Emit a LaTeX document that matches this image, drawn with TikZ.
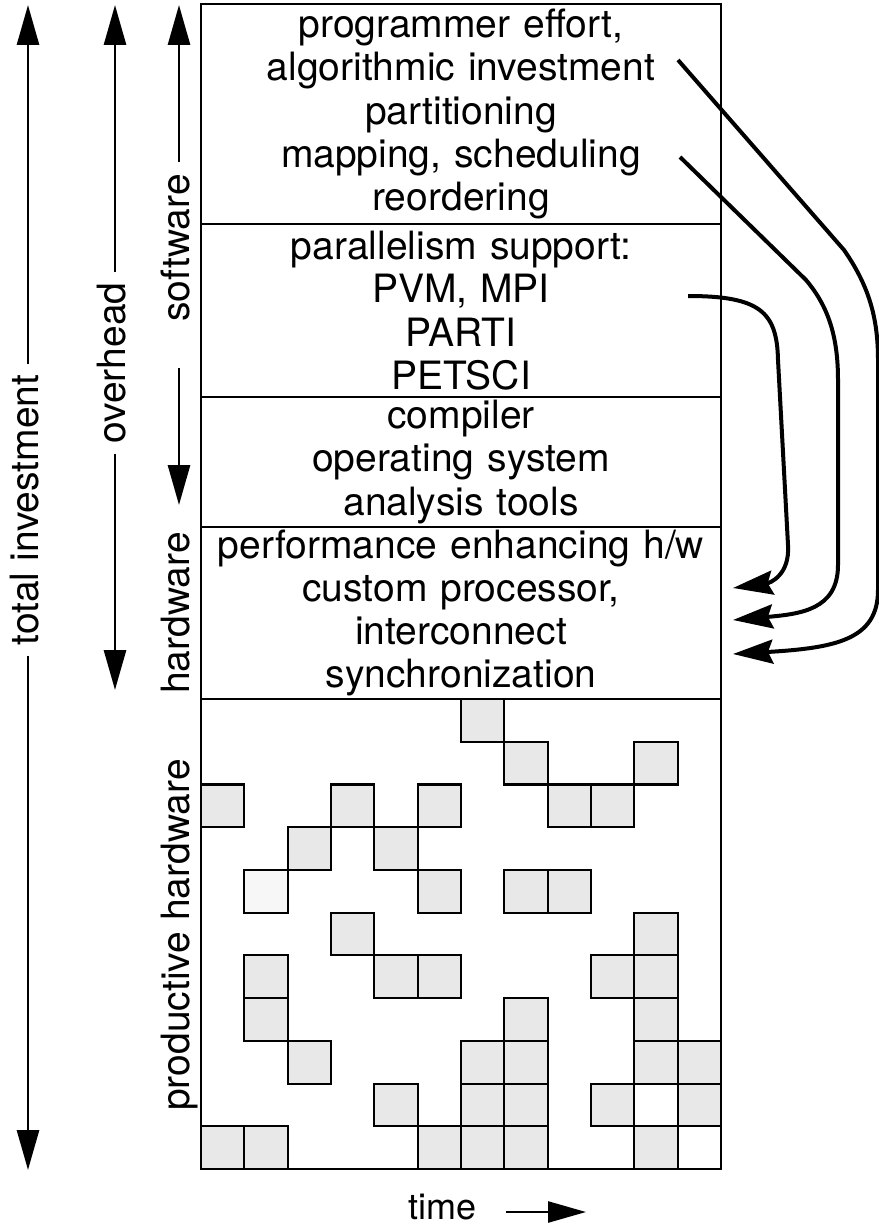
\documentclass[tikz,border=0pt]{standalone}
\usepackage{fontspec}
\setmainfont{TeX Gyre Heros}
\usetikzlibrary{arrows.meta}
\begin{document}
\begin{tikzpicture}[x=1pt,y=-1pt,
  txt/.style={font=\fontsize{39}{43.3}\selectfont},
  sect/.style={txt, draw, line width=1.4pt, minimum width=520pt, text width=510pt,
    align=center, inner sep=0pt, outer sep=0pt},
  cell/.style={draw, line width=2.1pt, fill=black!9, minimum width=43.33pt,
    minimum height=42.73pt, inner sep=0pt, outer sep=0pt},
  lightcell/.style={cell, fill=black!3},
  emptycell/.style={cell, fill=white},
  sidelab/.style={txt, rotate=90, anchor=base, inner sep=0pt},
  varrow/.style={line width=2.8pt, -{Triangle[length=40pt,width=22pt]}},
  flow/.style={line width=4pt, -{Stealth[length=40pt,width=24pt,inset=5pt]}},
]
\useasboundingbox (0,0) rectangle (878,1228);

% stacked layers of the investment column
\node[sect, minimum height=220pt] (s1) at (461,114)
  {programmer effort,\\algorithmic investment\\partitioning\\mapping, scheduling\\reordering};
\node[sect, minimum height=173pt] (s2) at (461,310.5)
  {parallelism support:\\PVM, MPI\\PARTI\\PETSCI};
\node[sect, minimum height=130pt] (s3) at (461,462)
  {compiler\\operating system\\analysis tools};
\node[sect, minimum height=172pt] (s4) at (461,613)
  {performance enhancing h/w\\custom processor,\\interconnect\\synchronization};
\node[sect, minimum height=470pt] (prod) at (461,934) {};

% busy hardware slots over time
\foreach \c/\r in {6/0, 7/1, 10/1, 0/2, 3/2, 5/2, 8/2, 9/2, 2/3, 4/3,
                   5/4, 7/4, 8/4, 3/5, 10/5, 1/6, 4/6, 5/6, 9/6, 10/6,
                   1/7, 7/7, 10/7, 2/8, 6/8, 7/8, 10/8, 11/8,
                   4/9, 6/9, 7/9, 9/9, 11/9,
                   0/10, 1/10, 5/10, 6/10, 7/10, 10/10}
  \node[cell] (g\c-\r) at ({201+(\c+0.5)*43.333},{699+(\r+0.5)*42.727}) {};
\node[lightcell] (g1-4) at ({201+1.5*43.333},{699+4.5*42.727}) {};
\node[emptycell] (g10-9) at ({201+10.5*43.333},{699+9.5*42.727}) {};
\node[emptycell] (g11-10) at ({201+11.5*43.333},{699+10.5*42.727}) {};

% side labels
\node[sidelab] (ti) at (38,510) {total investment};
\node[sidelab] (ov) at (125,363) {overhead};
\node[sidelab] (sw) at (189,248) {software};
\node[sidelab] (hw) at (189,613) {hardware};
\node[sidelab] (ph) at (189,935) {productive hardware};

% side arrows
\coordinate (tiT) at (28,5);
\coordinate (tiB) at (28,1170);
\draw[varrow, shorten <=10pt] (ti.east -| tiT) -- (tiT);
\draw[varrow, shorten <=10pt] (ti.west -| tiB) -- (tiB);

\coordinate (ovT) at (115,5);
\coordinate (ovB) at (115,690);
\draw[varrow, shorten <=10pt] (ov.east -| ovT) -- (ovT);
\draw[varrow, shorten <=10pt] (ov.west -| ovB) -- (ovB);

\coordinate (swT) at (179,5);
\coordinate (swL) at (179,368);
\coordinate (swB) at (179,505);
\draw[varrow, shorten <=12pt] (sw.east -| swT) -- (swT);
\draw[varrow] (swL) -- (swB);

% time axis
\node[font=\fontsize{36}{40}\selectfont, anchor=base west, inner sep=0pt] (time) at (408,1219) {time};
\coordinate (timeEnd) at (586,1212);
\draw[line width=2.6pt, -{Triangle[length=38pt,width=21pt]}, shorten <=30pt]
  (time.east |- timeEnd) -- (timeEnd);

% software layers feeding into hardware
\coordinate (a0) at (678,60);
\coordinate (a1) at (733,654);
\coordinate (b0) at (680,157);
\coordinate (b1) at (733,620);
\coordinate (c0) at (688,296);
\coordinate (c1) at (733,588);
\draw[flow] (a0) -- (844,250) .. controls (869,286) and (878,318) .. (878,360)
  -- (878,590) .. controls (878,640) and (835,648) .. (a1);
\draw[flow] (b0) -- (806,280) .. controls (828,306) and (838,336) .. (838,380)
  -- (838,565) .. controls (838,610) and (800,614) .. (b1);
\draw[flow] (c0) .. controls (760,296) and (777,312) .. (778,360)
  -- (788,545) .. controls (790,575) and (770,583) .. (c1);
\end{tikzpicture}
\end{document}
